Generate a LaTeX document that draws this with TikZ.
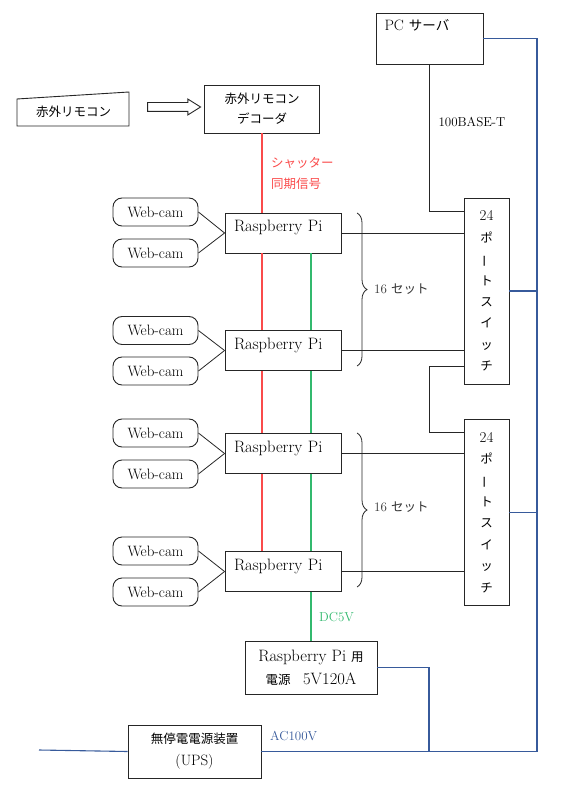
\documentclass[tikz,border=0pt]{standalone}
\usepackage{fontspec}
\usepackage{graphicx}
\newfontfamily\jafam{Noto Sans CJK JP}
\usetikzlibrary{decorations.pathreplacing, shapes.arrows}
\definecolor{shutred}{RGB}{250,75,75}
\definecolor{dcgreen}{RGB}{50,185,110}
\definecolor{acblue}{RGB}{55,90,155}
\newcommand{\lmfont}{\rmfamily\fontsize{15}{18}\selectfont}
\newcommand{\pifont}{\rmfamily\fontsize{16.5}{19}\selectfont}
\newcommand{\jpfont}{\jafam\fontsize{12.5}{20}\selectfont}
\newcommand{\lblfont}{\rmfamily\fontsize{13}{16}\selectfont}

\begin{document}
\begin{tikzpicture}[x=1pt, y=-1pt]
\tikzstyle{box}=[rectangle, draw=black!85, line width=0.9pt, fill=white, inner sep=0pt]
\tikzstyle{cam}=[box, rounded corners=9pt, minimum width=85pt, minimum height=28pt, font=\rmfamily\fontsize{15}{17}\selectfont]
\tikzstyle{rpi}=[box, minimum width=116pt, minimum height=40pt, text width=98pt, align=left, font=\pifont, text height=11pt, text depth=13.8pt]
\tikzstyle{sw}=[box, minimum width=45pt, minimum height=186pt, align=center, font=\jafam\fontsize{12.5}{21.4}\selectfont]
\tikzstyle{lbl}=[inner sep=0pt, anchor=west]
\tikzstyle{connect}=[-, line width=0.8pt, color=black!85]
\tikzstyle{shutline}=[-, line width=1.2pt, color=shutred]
\tikzstyle{dcline}=[-, line width=1.2pt, color=dcgreen]
\tikzstyle{acline}=[-, line width=1.1pt, color=acblue]
\useasboundingbox (0,0) rectangle (565,791);

% remote control and decoder
\draw[line width=0.9pt, black!85] (17,99) -- (129,92) -- (129,126) -- (17,126) -- cycle;
\node[font=\jpfont] (remote) at (73.5,112) {赤外リモコン};
\node[single arrow, draw=black!85, line width=0.9pt, inner sep=4pt, minimum height=53pt, single arrow head extend=3.5pt, single arrow tip angle=64] (irarrow) at (170.5,107) {};
\node[box, minimum width=115pt, minimum height=48pt, align=center, font=\jpfont] (dec) at (262,109) {赤外リモコン\\デコーダ};

% server
\node[box, minimum width=107pt, minimum height=51pt, text width=90pt, align=left, font=\lmfont, text height=10pt, text depth=26.8pt] (pc) at (429.5,38.5) {PC {\jafam\fontsize{13.5}{20}\selectfont サーバ}};
\node[lbl, anchor=center, font=\lblfont] (base) at (472,122) {100BASE-T};

% cameras and raspberry pi
\node[cam] (c1a) at (155.5,212) {Web-cam};
\node[cam] (c1b) at (155.5,253) {Web-cam};
\node[rpi] (rpi1) at (283,233) {Raspberry Pi};
\node[cam] (c2a) at (155.5,330.5) {Web-cam};
\node[cam] (c2b) at (155.5,371) {Web-cam};
\node[rpi] (rpi2) at (283,350.5) {Raspberry Pi};
\node[cam] (c3a) at (155.5,433) {Web-cam};
\node[cam] (c3b) at (155.5,474) {Web-cam};
\node[rpi] (rpi3) at (283,453.5) {Raspberry Pi};
\node[cam] (c4a) at (155.5,551) {Web-cam};
\node[cam] (c4b) at (155.5,592) {Web-cam};
\node[rpi] (rpi4) at (283,571.5) {Raspberry Pi};

% switches
\node[sw] (sw1) at (486.5,291) {{\lmfont 24}\\ポ\\\rotatebox[origin=c]{90}{ー}\\ト\\ス\\イ\\ッ\\チ};
\node[sw] (sw2) at (486.5,512.5) {{\lmfont 24}\\ポ\\\rotatebox[origin=c]{90}{ー}\\ト\\ス\\イ\\ッ\\チ};
\node[lbl, font=\lblfont, text=black!80] (set1) at (374,289) {16 {\jpfont セット}};
\node[lbl, font=\lblfont, text=black!80] (set2) at (374,507) {16 {\jpfont セット}};

% power
\node[box, minimum width=132pt, minimum height=53pt, align=center, font=\rmfamily\fontsize{16.5}{23}\selectfont] (psu) at (311,667.5) {Raspberry Pi {\jpfont 用}\\{\jpfont 電源　}5V120A};
\node[box, minimum width=133pt, minimum height=53pt, align=center, font=\rmfamily\fontsize{15}{22}\selectfont] (ups) at (194.5,751.5) {{\jpfont 無停電電源装置}\\(UPS)};
\node[lbl, font=\lblfont, text=dcgreen] (dcv) at (319,617) {DC5V};
\node[lbl, font=\lblfont, text=acblue] (acv) at (270,736) {AC100V};
\node[lbl, font=\jafam\fontsize{12.5}{21}\selectfont, text=shutred, align=left] (shutter) at (271,173.5) {シャッター\\同期信号};
\coordinate (acr) at (537,751.5);
\coordinate (acj) at (429,751.5);
\coordinate (acl) at (39,750);

\path (c1a.east) edge [connect] (rpi1.west);
\path (c1b.east) edge [connect] (rpi1.west);
\path (c2a.east) edge [connect] (rpi2.west);
\path (c2b.east) edge [connect] (rpi2.west);
\path (c3a.east) edge [connect] (rpi3.west);
\path (c3b.east) edge [connect] (rpi3.west);
\path (c4a.east) edge [connect] (rpi4.west);
\path (c4b.east) edge [connect] (rpi4.west);
\path (rpi1.east) edge [connect] (rpi1.east -| sw1.west);
\path (rpi2.east) edge [connect] (rpi2.east -| sw1.west);
\path (rpi3.east) edge [connect] (rpi3.east -| sw2.west);
\path (rpi4.east) edge [connect] (rpi4.east -| sw2.west);
\draw[connect] (pc.south) |- ([yshift=-14pt]sw1.north west);
\draw[connect] ([yshift=18pt]sw1.south west) -- ++(-34,0) |- ([yshift=-13pt]sw2.north west);
\draw[decorate, decoration={brace, amplitude=10pt}, line width=0.8pt, black!85] (357,213) -- (357,366);
\draw[decorate, decoration={brace, amplitude=10pt}, line width=0.8pt, black!85] (357,433) -- (357,587);

% shutter signal
\draw[shutline] (dec.south) -- (dec.south |- rpi1.north);
\draw[shutline] (rpi1.south -| dec.south) -- (rpi2.north -| dec.south);
\draw[shutline] (rpi2.south -| dec.south) -- (rpi3.north -| dec.south);
\draw[shutline] (rpi3.south -| dec.south) -- (rpi4.north -| dec.south);

% DC 5V
\draw[dcline] (rpi1.south -| psu.north) -- (rpi2.north -| psu.north);
\draw[dcline] (rpi2.south -| psu.north) -- (rpi3.north -| psu.north);
\draw[dcline] (rpi3.south -| psu.north) -- (rpi4.north -| psu.north);
\draw[dcline] (rpi4.south -| psu.north) -- (psu.north);

% AC 100V
\draw[acline] (pc.east) -| (acr) -- (ups.east);
\draw[acline] (sw1.east) -- (sw1.east -| acr);
\draw[acline] (sw2.east) -- (sw2.east -| acr);
\draw[acline] (psu.east) -| (acj);
\draw[acline] (acl) -- (ups.west);
\end{tikzpicture}
\end{document}
